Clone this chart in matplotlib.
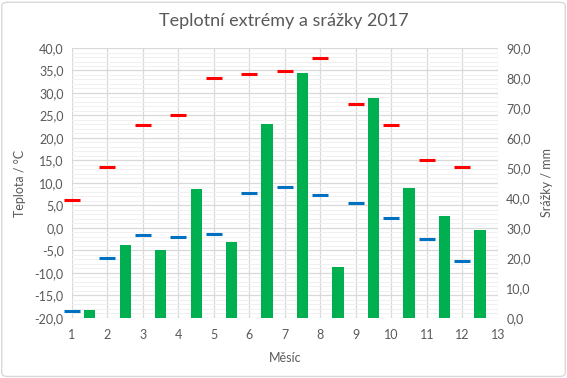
import matplotlib
matplotlib.use("Agg")
import matplotlib.pyplot as plt
from matplotlib.ticker import FuncFormatter, MultipleLocator
from matplotlib.patches import FancyBboxPatch

# Data
months = [1, 2, 3, 4, 5, 6, 7, 8, 9, 10, 11, 12]
t_max = [6.1, 13.5, 22.8, 25.0, 33.3, 34.3, 34.9, 37.8, 27.5, 22.8, 15.0, 13.5]
t_min = [-18.5, -6.7, -1.5, -2.0, -1.3, 7.8, 9.2, 7.4, 5.6, 2.3, -2.4, -7.4]
precip = [2.6, 24.3, 22.7, 43.1, 25.3, 64.8, 81.6, 17.0, 73.2, 43.4, 34.0, 29.4]

plt.rcParams["font.family"] = ["Lato", "DejaVu Sans"]
gray = "#595959"

fig = plt.figure(figsize=(5.67, 3.78), dpi=100)
ax1 = fig.add_axes([0.127, 0.159, 0.751, 0.714])
ax2 = ax1.twinx()

# grid on temperature axis
ax1.set_xlim(1, 13)
ax1.set_ylim(-20, 40)
ax1.xaxis.set_major_locator(MultipleLocator(1))
ax1.yaxis.set_major_locator(MultipleLocator(5))
ax1.yaxis.set_minor_locator(MultipleLocator(1))
ax1.grid(True, which="major", color="#d9d9d9", lw=0.9)
ax1.grid(True, which="minor", axis="y", color="#f0f0f0", lw=0.7)
ax1.set_axisbelow(True)

bar_x = [m + 0.5 for m in months]
ax2.bar(bar_x, precip, width=0.32, color="#00b050", zorder=2)
ax2.set_ylim(0, 90)
ax2.yaxis.set_major_locator(MultipleLocator(10))

ax2.plot(months, t_max, ls="none", marker="_", ms=11, mew=2.2, color="#ff0000",
         transform=ax1.transData, zorder=3, clip_on=False)
ax2.plot(months, t_min, ls="none", marker="_", ms=11, mew=2.2, color="#0070c0",
         transform=ax1.transData, zorder=3, clip_on=False)

fmt = FuncFormatter(lambda v, p: f"{v:.1f}".replace(".", ","))
ax1.yaxis.set_major_formatter(fmt)
ax2.yaxis.set_major_formatter(fmt)

for ax in (ax1, ax2):
    for s in ax.spines.values():
        s.set_visible(False)
    ax.tick_params(which="both", length=0, labelsize=9, colors=gray)
ax1.tick_params(axis="x", pad=8)
ax1.tick_params(axis="y", pad=6)
ax2.tick_params(axis="y", pad=6)

ax1.set_xlabel("Měsíc", fontsize=9, color=gray, labelpad=8)
ax1.set_ylabel("Teplota / °C", fontsize=9, color=gray, labelpad=6)
ax2.set_ylabel("Srážky / mm", fontsize=9, color=gray, labelpad=7)
fig.suptitle("Teplotní extrémy a srážky 2017", fontsize=13, color=gray, y=0.965)

border = FancyBboxPatch((0.003, 0.004), 0.994, 0.99, boxstyle="round,pad=0,rounding_size=0.01",
                        transform=fig.transFigure, fill=False, ec="#d9d9d9", lw=1)
fig.patches.append(border)

fig.savefig("out.png", dpi=100)
